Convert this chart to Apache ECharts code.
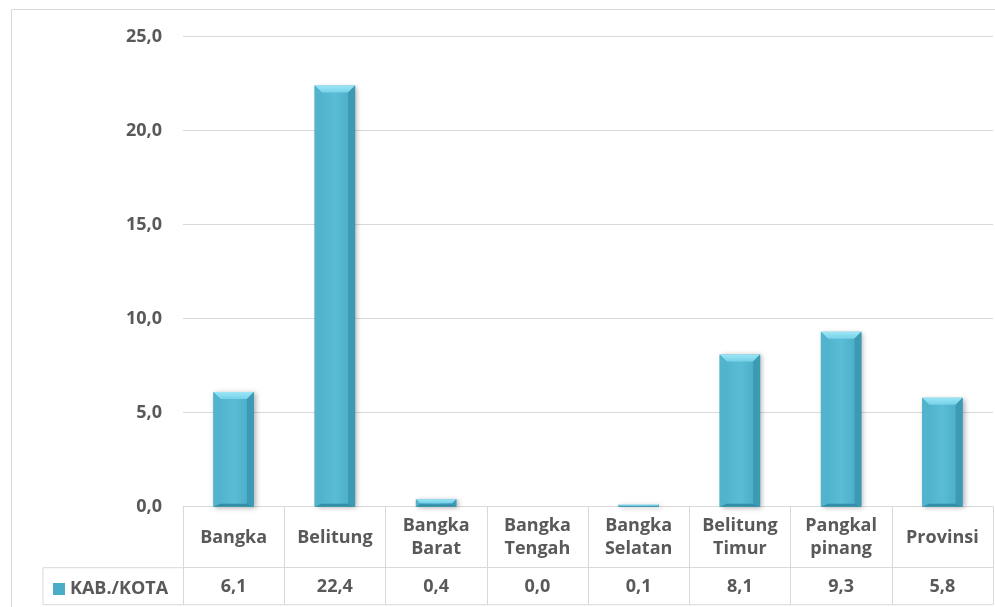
<!DOCTYPE html>
<html>
<head>
<meta charset="utf-8">
<script src="https://cdn.jsdelivr.net/npm/echarts@6/dist/echarts.min.js"></script>
<style>
html,body{margin:0;padding:0;background:#fff;}
#c{width:995px;height:607px;}
</style>
</head>
<body>
<div id="c"></div>
<script>
var categories = ['Bangka', 'Belitung', 'Bangka\nBarat', 'Bangka\nTengah', 'Bangka\nSelatan', 'Belitung\nTimur', 'Pangkal\npinang', 'Provinsi'];
var values = [6.1, 22.4, 0.4, 0.0, 0.1, 8.1, 9.3, 5.8];
var seriesName = 'KAB./KOTA';
var yMin = 0, yMax = 25, yInterval = 5;

function fmt(v){ return v.toFixed(1).replace('.', ','); }

var FONT = '"Open Sans", "Noto Sans", sans-serif';
var TXT = '#595959';
var LINE = '#d9d9d9';

// layout
var W = 995, H = 607;
var gridLeft = 183, gridRight = 993, gridTop = 36.7, gridBottom = 506.7;
var headerH = 61, valueH = 37, tableLeft = 43;

var chart = echarts.init(document.getElementById('c'), null, {renderer: 'canvas'});

function renderBar(params, api){
  var v = api.value(1);
  var base = api.coord([api.value(0), 0]);
  var top = api.coord([api.value(0), v]);
  var bw = api.size([1, 0])[0] * 0.4;
  var x = base[0] - bw / 2, y = top[1], h = base[1] - top[1];
  if (h <= 0.3) return null;
  var b = Math.min(7, h / 2, bw / 2);
  var bb = Math.min(3, h / 3);
  return {
    type: 'group',
    children: [
      {type: 'rect', shape: {x: x, y: y, width: bw, height: h},
        style: {fill: new echarts.graphic.LinearGradient(0, 0, 1, 0, [
          {offset: 0, color: '#4cafca'}, {offset: 0.5, color: '#5bbcd6'}, {offset: 1, color: '#48a9c4'}]),
          shadowBlur: 5, shadowColor: 'rgba(0,0,0,0.3)', shadowOffsetX: 2, shadowOffsetY: 1}},
      {type: 'polygon', shape: {points: [[x, y], [x + bw, y], [x + bw - b, y + b], [x + b, y + b]]},
        style: {fill: new echarts.graphic.LinearGradient(0, 0, 0, 1, [
          {offset: 0, color: '#9ce6f6'}, {offset: 1, color: '#76d1e8'}])}},
      {type: 'polygon', shape: {points: [[x, y], [x + b, y + b], [x + b, y + h - bb], [x, y + h]]},
        style: {fill: '#52b3cd'}},
      {type: 'polygon', shape: {points: [[x + bw, y], [x + bw - b, y + b], [x + bw - b, y + h - bb], [x + bw, y + h]]},
        style: {fill: '#3d9ab4'}},
      {type: 'polygon', shape: {points: [[x, y + h], [x + b, y + h - bb], [x + bw - b, y + h - bb], [x + bw, y + h]]},
        style: {fill: '#348da6'}}
    ]
  };
}

var option = {
  animation: false,
  backgroundColor: '#fff',
  textStyle: {fontFamily: FONT},
  grid: {left: gridLeft, right: W - gridRight, top: gridTop, bottom: H - gridBottom, containLabel: false},
  legend: {
    data: [seriesName], left: 48, top: 575, icon: 'rect', itemWidth: 12, itemHeight: 12, itemGap: 5,
    textStyle: {fontFamily: FONT, fontWeight: 'bold', fontSize: 18, color: TXT, padding: [0, 0, 0, 0]}
  },
  xAxis: [
    {
      type: 'category', data: categories, position: 'bottom',
      axisLine: {show: true, lineStyle: {color: LINE, width: 1}},
      axisTick: {show: true, length: headerH, lineStyle: {color: LINE}},
      axisLabel: {interval: 0, margin: 31, verticalAlign: 'middle', lineHeight: 23,
        fontFamily: FONT, fontWeight: 'bold', fontSize: 18, color: TXT},
      splitLine: {show: false}
    },
    {
      type: 'category', data: values.map(fmt), position: 'bottom', offset: headerH,
      axisLine: {show: true, lineStyle: {color: LINE, width: 1}},
      axisTick: {show: true, length: valueH, lineStyle: {color: LINE}},
      axisLabel: {interval: 0, margin: 19, verticalAlign: 'middle',
        fontFamily: FONT, fontWeight: 'bold', fontSize: 18, color: TXT},
      splitLine: {show: false}
    }
  ],
  yAxis: {
    type: 'value', min: yMin, max: yMax, interval: yInterval,
    axisLine: {show: false}, axisTick: {show: false},
    axisLabel: {margin: 21, formatter: function(v){ return fmt(v); },
      fontFamily: FONT, fontWeight: 'bold', fontSize: 18, color: TXT},
    splitLine: {show: true, lineStyle: {color: LINE, width: 1}}
  },
  series: [{
    name: seriesName, type: 'custom', xAxisIndex: 0, renderItem: renderBar,
    itemStyle: {color: '#4bacc6'},
    encode: {x: 0, y: 1},
    data: values.map(function(v, i){ return [i, v]; })
  }],
  graphic: [
    {type: 'rect', shape: {x: 11.5, y: 9.5, width: 1100, height: 700}, style: {fill: 'none', stroke: LINE, lineWidth: 1}, silent: true, z: -1},
    {type: 'line', shape: {x1: tableLeft, y1: gridBottom + headerH, x2: gridLeft, y2: gridBottom + headerH}, style: {stroke: LINE, lineWidth: 1}},
    {type: 'line', shape: {x1: tableLeft, y1: gridBottom + headerH + valueH, x2: gridRight, y2: gridBottom + headerH + valueH}, style: {stroke: LINE, lineWidth: 1}},
    {type: 'line', shape: {x1: tableLeft, y1: gridBottom + headerH, x2: tableLeft, y2: gridBottom + headerH + valueH}, style: {stroke: LINE, lineWidth: 1}}
  ]
};
chart.setOption(option);
</script>
</body>
</html>
